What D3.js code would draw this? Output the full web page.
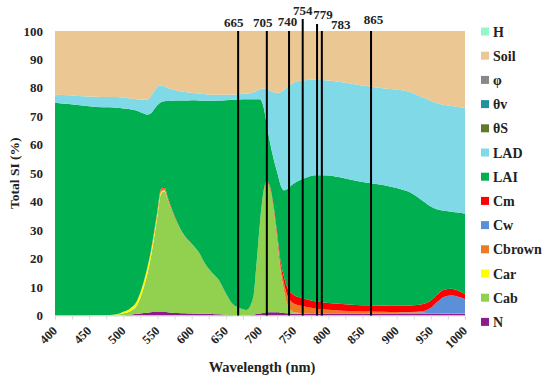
<!DOCTYPE html>
<html>
<head>
<meta charset="utf-8">
<script src="https://cdn.jsdelivr.net/npm/d3@7"></script>
<style>
  body { margin: 0; background: #fff; }
  text { font-family: "Liberation Serif", "DejaVu Serif", serif; font-weight: bold; fill: #222; }
</style>
</head>
<body>
<div id="viz"></div>
<script>
// ── DATA ─────────────────────────────────────────────────────────────────────
const wavelength = [400,420,440,460,480,490,500,510,520,530,535,540,545,550,555,560,565,570,
  580,590,600,610,620,630,640,650,660,670,680,690,695,700,705,710,715,720,725,730,735,740,745,750,
  760,770,780,800,820,840,860,880,900,920,940,950,960,970,980,990,1000];

const N = [0,0,0,0,0,0,0.1,0.3,0.6,0.9,1.0,1.1,1.2,1.2,1.2,1.2,1.1,1.0,
  0.9,0.8,0.7,0.6,0.6,0.5,0.4,0.3,0.2,0.1,0.1,0.3,0.5,0.7,0.9,1.0,1.1,1.1,1.1,1.0,0.9,0.8,0.7,0.6,
  0.6,0.6,0.6,0.6,0.6,0.6,0.6,0.6,0.6,0.6,0.6,0.6,0.6,0.6,0.6,0.6,0.6];
const Cab = [0,0,0,0.1,0.2,0.3,0.6,1.2,3.0,9.0,13.5,19,26,34,41.5,42.5,39.5,36.5,
  31,27,24.5,21.8,17.5,14.5,12,7.5,3.8,2.5,1.8,6,18,32,42,45.5,43,36,26,15,8,3,1.2,0.5,
  0.2,0.1,0,0,0,0,0,0,0,0,0,0,0,0,0,0,0];
const Car = [0,0,0,0,0,0.1,0.6,1.0,1.5,2.0,2.0,1.8,1.5,1.0,0.6,0.3,0.1,0,
  0,0,0,0,0,0,0,0,0,0,0,0,0,0,0,0,0,0,0,0,0,0,0,0,
  0,0,0,0,0,0,0,0,0,0,0,0,0,0,0,0,0];
const Cbrown = [0,0,0,0,0,0,0,0,0.1,0.2,0.3,0.4,0.5,0.6,0.8,0.8,0.6,0.4,
  0.2,0.1,0,0,0,0,0,0,0,0,0,0,0,0.1,0.3,0.5,0.6,0.8,1.2,1.8,2.6,3.2,3.2,3.0,
  2.6,2.2,1.9,1.4,1.1,0.9,0.8,0.7,0.6,0.5,0.4,0.3,0.3,0.2,0.2,0.2,0.2];
const Cw = [0,0,0,0,0,0,0,0,0,0,0,0,0,0,0,0,0,0,
  0,0,0,0,0,0,0,0,0,0,0,0,0,0,0,0,0,0,0,0,0,0,0,0,
  0,0,0,0,0,0,0,0,0,0.1,0.6,1.8,4.0,5.8,6.2,5.8,5.0];
const Cm = [0,0,0,0,0,0,0,0,0,0,0,0.1,0.2,0.3,0.4,0.4,0.3,0.2,
  0.1,0,0,0,0,0,0,0,0,0,0,0,0,0,0.2,0.3,0.4,0.6,0.9,1.5,2.2,2.8,3.0,3.0,
  2.8,2.6,2.5,2.4,2.3,2.2,2.2,2.2,2.2,2.3,2.5,2.6,2.6,2.5,2.4,2.1,1.8];
const LAI = [74.8,74.3,73.8,73.2,73.0,72.6,71.5,70.0,66.8,58.9,53.8,48.6,43.1,36.9,30.5,30.1,33.8,37.4,
  43.4,47.7,50.5,53.2,57.4,60.5,63.2,67.9,71.8,73.3,74.1,69.7,57.5,43.2,30.1,19.7,15.4,16.5,21.3,26.7,30.3,34.7,37.5,39.4,
  41.6,43.2,44.3,44.8,44.4,43.7,43.0,42.4,41.4,39.7,35.9,33.0,29.8,27.7,27.1,27.5,28.2];
const LAD = [2.9,3.1,3.3,3.6,3.6,3.8,3.8,3.8,4.0,4.8,5.3,6.0,6.3,6.3,5.8,5.2,4.6,4.1,
  3.3,3.0,2.6,2.4,2.3,2.1,2.0,1.9,1.9,1.9,2.0,2.4,2.9,3.5,6.3,12.6,18.5,23.5,27.8,32.5,35.3,35.8,35.6,35.4,
  34.7,34.1,33.6,33.4,33.6,33.8,33.9,34.0,34.6,35.3,36.5,37.2,37.2,37.2,37.1,37.1,37.2];
const Soil = [22.3,22.6,22.9,23.1,23.2,23.2,23.4,23.7,24.0,24.2,24.1,23.0,21.2,19.7,19.2,19.5,20.0,20.4,
  21.1,21.4,21.7,22.0,22.2,22.4,22.4,22.4,22.3,22.2,22.0,21.6,21.1,20.5,20.2,20.4,21.0,21.5,21.7,21.5,20.7,19.7,18.8,18.1,
  17.5,17.2,17.1,17.4,18.0,18.8,19.5,20.1,20.6,21.5,23.5,24.5,25.5,26.0,26.4,26.7,27.0];
// parameters with no visible share (legend only)
const zeros = wavelength.map(() => 0);
const thetaS = zeros, thetaV = zeros, phi = zeros, H = zeros;

// bottom to top stacking order
const seriesNames = ["N","Cab","Car","Cbrown","Cw","Cm","LAI","LAD","θS","θv","φ","Soil","H"];
const seriesValues = [N, Cab, Car, Cbrown, Cw, Cm, LAI, LAD, thetaS, thetaV, phi, Soil, H];
const seriesColors = ["#8a1c8c","#92d050","#ffff00","#ec7a22","#5b8fd8","#ff0000","#00af50",
  "#80d9e6","#5f7a2c","#23939b","#888888","#ebc794","#94f7c9"];

// marked bands: label text and where the line sits (nm)
const markerLabels = ["665","705","740","754","779","783","865"];
const markerWl = [668, 710, 742.5, 762.5, 783.5, 790.5, 862.5];

const yTicks = [0,10,20,30,40,50,60,70,80,90,100];
const xTicks = [400,450,500,550,600,650,700,750,800,850,900,950,1000];

// ── SETTINGS ────────────────────────────────────────────────────────────────
const width = 550, height = 380;
const plot = { left: 55, right: 465, top: 31, bottom: 315.5 };

const svg = d3.select("#viz").append("svg")
    .attr("viewBox", [0, 0, width, height])
    .attr("width", width)
    .attr("height", height);

const x = d3.scaleLinear().domain([400, 1000]).range([plot.left, plot.right]);
const y = d3.scaleLinear().domain([0, 100]).range([plot.bottom, plot.top]);

// ── STACK ────────────────────────────────────────────────────────────────────
const table = wavelength.map((wl, i) => {
  const row = { wl };
  seriesNames.forEach((name, k) => row[name] = seriesValues[k][i]);
  return row;
});

const stacked = d3.stack().keys(seriesNames)(table);

const area = d3.area()
    .curve(d3.curveMonotoneX)
    .x(d => x(d.data.wl))
    .y0(d => y(d[0]))
    .y1(d => y(d[1]));

svg.append("g")
  .selectAll("path")
  .data(stacked)
  .join("path")
    .attr("fill", (d, i) => seriesColors[i])
    .attr("d", area);

// ── AXES ─────────────────────────────────────────────────────────────────────
const xAxis = svg.append("g")
    .attr("transform", `translate(0,${plot.bottom})`)
    .call(d3.axisBottom(x).tickValues(d3.range(400, 1001, 25)).tickSize(4).tickFormat(""));
xAxis.select(".domain").attr("stroke", "#d9d9d9");
xAxis.selectAll(".tick line").attr("stroke", "#d9d9d9");

svg.append("g")
  .selectAll("text")
  .data(xTicks)
  .join("text")
    .attr("transform", d => `translate(${x(d) + 3},${plot.bottom + 16}) rotate(-45)`)
    .attr("text-anchor", "end")
    .attr("font-size", "12.5px")
    .text(d => d);

svg.append("g")
  .selectAll("text")
  .data(yTicks)
  .join("text")
    .attr("x", plot.left - 12)
    .attr("y", d => y(d) + 4.5)
    .attr("text-anchor", "end")
    .attr("font-size", "13px")
    .text(d => d);

svg.append("text")
    .attr("transform", `translate(19,${(plot.top + plot.bottom) / 2}) rotate(-90)`)
    .attr("text-anchor", "middle")
    .attr("font-size", "13.5px")
    .text("Total SI (%)");

svg.append("text")
    .attr("x", 262)
    .attr("y", 372)
    .attr("text-anchor", "middle")
    .attr("font-size", "14.5px")
    .text("Wavelength (nm)");

// ── BAND MARKERS ─────────────────────────────────────────────────────────────
// label baselines and small sideways nudges, so the crowded labels don't overlap
const labelBase = [27, 27, 26, 15, 19, 29, 24];
const labelNudge = [-4.5, -4, -1.5, 0, 6, 19, 2.5];
const lineTop = [31, 31, 31, 19, 24, 31, 31];

svg.append("g")
  .selectAll("line")
  .data(markerWl)
  .join("line")
    .attr("x1", d => x(d))
    .attr("x2", d => x(d))
    .attr("y1", (d, i) => lineTop[i])
    .attr("y2", plot.bottom)
    .attr("stroke", "#000")
    .attr("stroke-width", 2);

svg.append("g")
  .selectAll("text")
  .data(markerLabels)
  .join("text")
    .attr("x", (d, i) => x(markerWl[i]) + labelNudge[i])
    .attr("y", (d, i) => labelBase[i])
    .attr("text-anchor", "middle")
    .attr("font-size", "13px")
    .text(d => d);

// ── LEGEND ───────────────────────────────────────────────────────────────────
const legendOrder = seriesNames.map((n, i) => i).reverse();
const legend = svg.append("g")
  .selectAll("g")
  .data(legendOrder)
  .join("g")
    .attr("transform", (d, j) => `translate(481,${31.5 + j * 24.2})`);

legend.append("rect")
    .attr("x", 0).attr("y", -4)
    .attr("width", 8).attr("height", 8)
    .attr("fill", d => seriesColors[d]);

legend.append("text")
    .attr("x", 12)
    .attr("y", 5)
    .attr("font-size", "14px")
    .text(d => seriesNames[d]);
</script>
</body>
</html>
